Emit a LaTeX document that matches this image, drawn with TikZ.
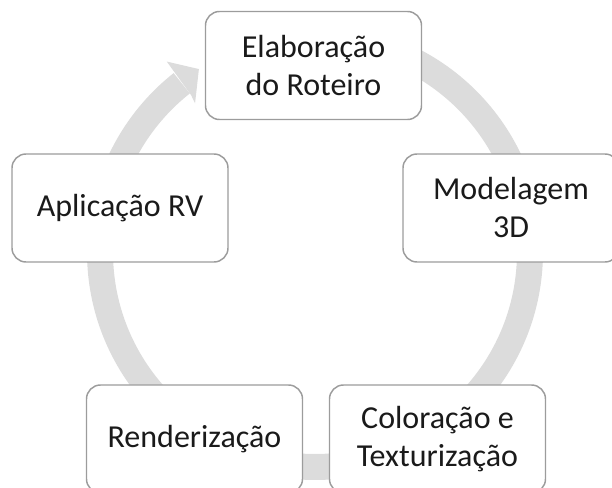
\documentclass[tikz,border=0pt]{standalone}
\usepackage{fontspec}
\setmainfont{Carlito}
\definecolor{bandgray}{HTML}{DCDCDC}
\definecolor{boxline}{HTML}{9C9C9C}
\definecolor{txt}{HTML}{1A1A1A}
\tikzset{
  stagebox/.style={draw=boxline, line width=1.1pt, fill=white, rounded corners=10.5pt,
    minimum width=162pt, minimum height=81pt, align=center, text=txt,
    font=\fontsize{24}{28.5}\selectfont, inner sep=0pt},
  band/.style={draw=bandgray, line width=19.5pt},
}
\begin{document}
\begin{tikzpicture}[x=0.75pt,y=0.75pt]
\useasboundingbox (0,0) rectangle (612,488);
\coordinate (O) at (315,236);
% circular arrow
\draw[band, shift={(O)}] (90:161.25pt) arc[start angle=90, end angle=-231.7, radius=161.25pt];
\fill[bandgray, shift={(O)}] (127.9:181pt) -- (122.4:162.5pt) -- (128.9:143.25pt) -- (128.3:150pt) -- cycle;
% stages
\node[stagebox] (top) at (313.5,422.5) {Elaboração\\do Roteiro};
\node[stagebox] (right) at (511,280) {Modelagem\\3D};
\node[stagebox] (left) at (120,280) {Aplicação RV};
\node[stagebox] (bl) at (194.5,49) {Renderização};
\node[stagebox] (br) at (437.5,49) {Coloração e\\Texturização};
\end{tikzpicture}
\end{document}
